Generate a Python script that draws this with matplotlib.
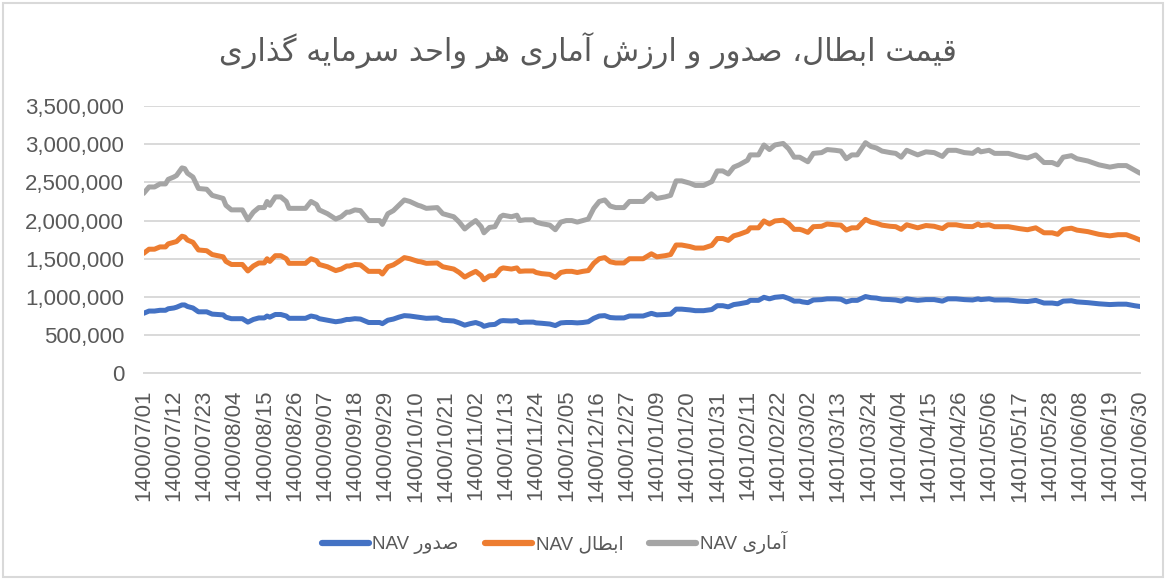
import numpy as np
import matplotlib
matplotlib.use('Agg')
import matplotlib.pyplot as plt
from matplotlib.ticker import FuncFormatter, MultipleLocator
from matplotlib.patches import Rectangle

plt.rcParams['font.family'] = ['Liberation Sans', 'DejaVu Sans']

# Persian text (logical order); shaped below because matplotlib has no Arabic shaping
title_fa = 'قیمت ابطال، صدور و ارزش آماری هر واحد سرمایه گذاری'
series_fa = ['صدور', 'ابطال', 'آماری']

tick_labels = ['1400/07/01', '1400/07/12', '1400/07/23', '1400/08/04', '1400/08/15',
               '1400/08/26', '1400/09/07', '1400/09/18', '1400/09/29', '1400/10/10',
               '1400/10/21', '1400/11/02', '1400/11/13', '1400/11/24', '1400/12/05',
               '1400/12/16', '1400/12/27', '1401/01/09', '1401/01/20', '1401/01/31',
               '1401/02/11', '1401/02/22', '1401/03/02', '1401/03/13', '1401/03/24',
               '1401/04/04', '1401/04/15', '1401/04/26', '1401/05/06', '1401/05/17',
               '1401/05/28', '1401/06/08', '1401/06/19', '1401/06/30']

days = [0, 2, 4, 6, 8, 9, 11, 12, 14, 15, 16, 18, 20, 23, 25, 27, 29, 30, 32, 36,
        38, 40, 42, 44, 45, 46, 48, 50, 52, 53, 56, 59, 61, 63, 64, 67, 70, 72, 74, 75,
        77, 79, 82, 83, 86, 87, 89, 91, 93, 95, 97, 100, 101, 103, 107, 109, 111, 113, 115, 117,
        119, 121, 123, 124, 126, 128, 130, 131, 134, 136, 137, 139, 142, 143, 145, 148, 150, 152, 154, 156,
        158, 160, 162, 164, 166, 168, 170, 172, 175, 177, 179, 182, 185, 187, 190, 192, 194, 196, 199, 201,
        204, 207, 209, 211, 213, 215, 217, 220, 221, 224, 226, 228, 230, 233, 235, 237, 239, 240, 242, 244,
        247, 249, 252, 254, 256, 258, 260, 263, 265, 267, 269, 272, 274, 276, 278, 280, 282, 285, 288, 291,
        293, 296, 299, 302, 304, 305, 308, 310, 315, 319, 322, 325, 328, 331, 333, 335, 338, 340, 344, 348,
        352, 355, 358, 361, 363]

# values in thousands of rials
nav_issue = [785, 815, 815, 825, 825, 845, 855, 865, 895, 895, 875, 855, 805, 805, 775, 770, 765, 735, 715, 715,
             670, 705, 725, 725, 750, 735, 770, 770, 750, 720, 720, 720, 750, 735, 715, 695, 675, 685, 705, 705,
             715, 710, 665, 665, 665, 650, 695, 710, 735, 755, 750, 735, 730, 720, 725, 695, 690, 685, 660, 630,
             650, 665, 640, 615, 635, 640, 685, 690, 685, 690, 665, 670, 670, 660, 655, 645, 625, 660, 665, 665,
             660, 665, 675, 720, 750, 755, 730, 725, 725, 750, 750, 750, 785, 765, 770, 775, 840, 840, 830, 820,
             820, 835, 885, 885, 870, 900, 910, 930, 955, 955, 995, 975, 995, 1005, 980, 945, 945, 935, 925, 960,
             965, 975, 975, 970, 935, 955, 955, 1005, 990, 985, 970, 965, 960, 945, 975, 965, 955, 965, 965, 945,
             975, 975, 965, 960, 975, 965, 975, 960, 960, 945, 940, 955, 920, 920, 910, 945, 950, 935, 925, 910,
             900, 905, 905, 885, 875]
nav_redeem = [1570, 1625, 1625, 1655, 1655, 1695, 1715, 1725, 1795, 1785, 1745, 1715, 1615, 1605, 1555, 1540, 1525, 1465, 1425, 1425,
              1340, 1405, 1445, 1445, 1500, 1465, 1540, 1540, 1500, 1440, 1440, 1440, 1500, 1475, 1425, 1395, 1345, 1365, 1405, 1405,
              1425, 1420, 1335, 1335, 1335, 1300, 1395, 1420, 1465, 1515, 1500, 1465, 1460, 1440, 1445, 1395, 1380, 1365, 1320, 1260,
              1300, 1335, 1280, 1225, 1275, 1280, 1365, 1380, 1365, 1380, 1335, 1340, 1340, 1320, 1305, 1295, 1255, 1320, 1335, 1335,
              1320, 1335, 1345, 1440, 1500, 1515, 1460, 1445, 1445, 1500, 1500, 1500, 1565, 1525, 1540, 1555, 1680, 1680, 1660, 1640,
              1640, 1675, 1765, 1765, 1740, 1800, 1820, 1860, 1905, 1905, 1995, 1955, 1995, 2005, 1960, 1885, 1885, 1875, 1845, 1920,
              1925, 1955, 1945, 1940, 1875, 1905, 1905, 2015, 1980, 1965, 1940, 1925, 1920, 1885, 1945, 1925, 1905, 1935, 1925, 1895,
              1945, 1945, 1925, 1920, 1955, 1935, 1945, 1920, 1920, 1895, 1880, 1905, 1840, 1840, 1820, 1885, 1900, 1875, 1855, 1820,
              1800, 1815, 1815, 1775, 1745]
nav_stat = [2355, 2440, 2440, 2480, 2480, 2540, 2570, 2590, 2690, 2680, 2620, 2570, 2420, 2410, 2330, 2310, 2290, 2200, 2140, 2140,
            2010, 2110, 2170, 2170, 2250, 2200, 2310, 2310, 2250, 2160, 2160, 2160, 2250, 2210, 2140, 2090, 2020, 2050, 2110, 2110,
            2140, 2130, 2000, 2000, 2000, 1950, 2090, 2130, 2200, 2270, 2250, 2200, 2190, 2160, 2170, 2090, 2070, 2050, 1980, 1890,
            1950, 2000, 1920, 1840, 1910, 1920, 2050, 2070, 2050, 2070, 2000, 2010, 2010, 1980, 1960, 1940, 1880, 1980, 2000, 2000,
            1980, 2000, 2020, 2160, 2250, 2270, 2190, 2170, 2170, 2250, 2250, 2250, 2350, 2290, 2310, 2330, 2520, 2520, 2490, 2460,
            2460, 2510, 2650, 2650, 2610, 2700, 2730, 2790, 2860, 2860, 2990, 2930, 2990, 3010, 2940, 2830, 2830, 2810, 2770, 2880,
            2890, 2930, 2920, 2910, 2810, 2860, 2860, 3020, 2970, 2950, 2910, 2890, 2880, 2830, 2920, 2890, 2860, 2900, 2890, 2840,
            2920, 2920, 2890, 2880, 2930, 2900, 2920, 2880, 2880, 2840, 2820, 2860, 2760, 2760, 2730, 2830, 2850, 2810, 2780, 2730,
            2700, 2720, 2720, 2660, 2620]

# --- minimal Persian shaping: contextual presentation forms + visual (reversed) order
DUAL = {'\u0628': 0xFE8F, '\u062A': 0xFE95, '\u062D': 0xFEA1, '\u0633': 0xFEB1,
        '\u0634': 0xFEB5, '\u0635': 0xFEB9, '\u0637': 0xFEC1, '\u0642': 0xFED5,
        '\u0644': 0xFEDD, '\u0645': 0xFEE1, '\u0647': 0xFEE9, '\u06CC': 0xFBFC,
        '\u06AF': 0xFB92}
RIGHT = {'\u0627': 0xFE8D, '\u0622': 0xFE81, '\u062F': 0xFEA9, '\u0630': 0xFEAB,
         '\u0631': 0xFEAD, '\u0632': 0xFEAF, '\u0648': 0xFEED}


def fa(text):
    text = text.replace('\u064A', '\u06CC')
    out = []
    for i, ch in enumerate(text):
        if ch in DUAL or ch in RIGHT:
            prev = text[i - 1] if i > 0 else ''
            nxt = text[i + 1] if i + 1 < len(text) else ''
            join_prev = prev in DUAL
            join_next = ch in DUAL and (nxt in DUAL or nxt in RIGHT)
            base = DUAL.get(ch, RIGHT.get(ch))
            if join_prev and join_next:
                k = 3
            elif join_prev:
                k = 1
            elif join_next:
                k = 2
            else:
                k = 0
            out.append(chr(base + k))
        else:
            out.append(ch)
    return ''.join(reversed(out))


colors = ['#4472C4', '#ED7D31', '#A5A5A5']
text_color = '#595959'
grid_color = '#D9D9D9'

fig = plt.figure(figsize=(11.67, 5.8), dpi=100)
ax = fig.add_axes([0.123, 0.3564, 0.8539, 0.4608])

x = np.array(days)
for vals, name, c in zip([nav_issue, nav_redeem, nav_stat], series_fa, colors):
    ax.plot(x, np.array(vals) * 1000, color=c, lw=3.6, solid_joinstyle='round',
            solid_capstyle='round', label='NAV ' + fa(name))

ax.set_xlim(0, 363)
ax.set_ylim(0, 3500000)
ax.yaxis.set_major_locator(MultipleLocator(500000))
ax.yaxis.set_major_formatter(FuncFormatter(lambda v, p: f'{v:,.0f}'))
ax.grid(axis='y', color=grid_color, lw=1.4)
ax.set_axisbelow(True)
for s in ['top', 'right', 'left']:
    ax.spines[s].set_visible(False)
ax.spines['bottom'].set_color(grid_color)
ax.spines['bottom'].set_linewidth(1.4)

ax.set_xticks(np.arange(len(tick_labels)) * 11)
ax.set_xticklabels(tick_labels, rotation=90)
ax.tick_params(axis='x', length=0, pad=12, labelsize=16, labelcolor=text_color)
ax.tick_params(axis='y', length=0, pad=14, labelsize=16, labelcolor=text_color)

fig.text(0.504, 0.913, fa(title_fa), ha='center', va='center', fontsize=22,
         color=text_color, family=['DejaVu Sans'])

leg = fig.legend(loc='center', bbox_to_anchor=(0.475, 0.064), ncol=3, frameon=False,
                 fontsize=13.5, handlelength=2.5, handletextpad=0.2, columnspacing=1.4,
                 labelcolor=text_color)
for h in leg.get_lines():
    h.set_linewidth(4.5)

fig.patches.append(Rectangle((3 / 1167, 3 / 580), 1160 / 1167, 574 / 580,
                             transform=fig.transFigure, fill=False,
                             edgecolor=grid_color, lw=1.5))

fig.savefig('out.png', dpi=100, facecolor='white')
